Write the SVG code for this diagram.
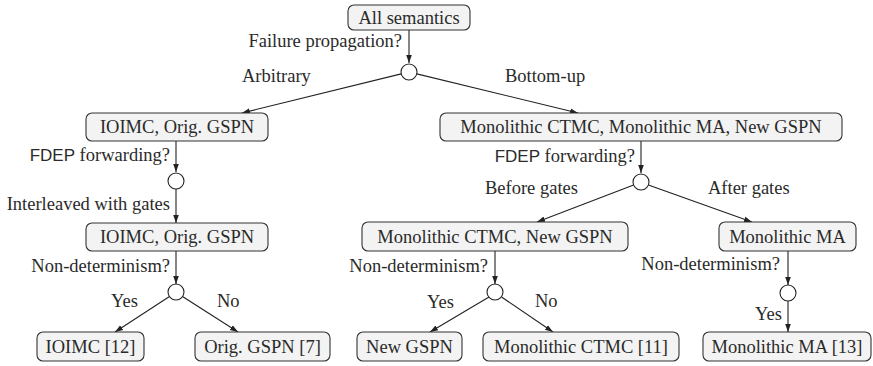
<svg xmlns="http://www.w3.org/2000/svg" width="873" height="366" viewBox="0 0 873 366" font-family="Liberation Serif, Times New Roman, serif">
<defs>
<marker id="ah" viewBox="0 0 10 10" refX="10" refY="5" markerWidth="8" markerHeight="8" markerUnits="userSpaceOnUse" orient="auto">
<path d="M0,1.5 L10,5 L0,8.5 z" fill="#222"/>
</marker>
<style>
text{font-size:18.5px;fill:#2a2a2a}
tspan.sf{font-size:17px}
.box rect{fill:#f3f3f3;stroke:#333;stroke-width:1.1}
.box text{text-anchor:middle}
.dec circle{fill:#fff;stroke:#222;stroke-width:1.1}
.e{text-anchor:end}
#connectors line{stroke:#222;stroke-width:1.1;fill:none}
#connectors line.a{marker-end:url(#ah)}
</style>
</defs>
<rect width="873" height="366" fill="#fff"/>

<g id="connectors">
<line class="a" x1="409" y1="30" x2="409" y2="63"/>
<line class="a" x1="401.2" y1="73.9" x2="242" y2="113"/>
<line class="a" x1="416.8" y1="73.9" x2="578" y2="113"/>
<line class="a" x1="176" y1="141" x2="176" y2="172"/>
<line class="a" x1="176" y1="189" x2="176" y2="223"/>
<line class="a" x1="176" y1="251" x2="176" y2="284"/>
<line class="a" x1="169.5" y1="296.5" x2="115" y2="332"/>
<line class="a" x1="182.5" y1="296.5" x2="238" y2="332"/>
<line class="a" x1="641" y1="141" x2="641" y2="173"/>
<line class="a" x1="633.6" y1="185" x2="537" y2="222"/>
<line class="a" x1="648.4" y1="185" x2="752" y2="222"/>
<line class="a" x1="495" y1="251" x2="495" y2="284"/>
<line class="a" x1="489" y1="297" x2="430" y2="332"/>
<line class="a" x1="501.5" y1="297" x2="553" y2="332"/>
<line class="a" x1="788" y1="251" x2="788" y2="285"/>
<line class="a" x1="788" y1="301" x2="788" y2="332"/>
</g>

<g id="labels">
<text class="e" x="402" y="47">Failure propagation?</text>
<text x="242" y="82">Arbitrary</text>
<text x="505" y="82">Bottom-up</text>
<text class="e" x="170" y="161"><tspan class="sf" font-family="Liberation Sans, Arial, sans-serif">FDEP</tspan> forwarding?</text>
<text class="e" x="170" y="210">Interleaved with gates</text>
<text class="e" x="170" y="272">Non-determinism?</text>
<text x="111" y="307">Yes</text>
<text x="217" y="307">No</text>
<text class="e" x="635" y="162"><tspan class="sf" font-family="Liberation Sans, Arial, sans-serif">FDEP</tspan> forwarding?</text>
<text x="485" y="194">Before gates</text>
<text x="708" y="194">After gates</text>
<text class="e" x="488" y="272">Non-determinism?</text>
<text x="427" y="308">Yes</text>
<text x="535" y="307">No</text>
<text class="e" x="780" y="270">Non-determinism?</text>
<text x="755" y="320">Yes</text>
</g>

<g id="n-all" class="box"><rect x="348" y="5" width="122" height="25" rx="6"/><text x="409" y="24">All semantics</text></g>
<g id="d-prop" class="dec"><circle cx="409" cy="72" r="8"/></g>

<g id="n-ioimc1" class="box"><rect x="86" y="113" width="182" height="28" rx="6"/><text x="177" y="133">IOIMC, Orig. GSPN</text></g>
<g id="d-fdep1" class="dec"><circle cx="176" cy="181" r="8"/></g>
<g id="n-ioimc2" class="box"><rect x="86" y="223" width="182" height="28" rx="6"/><text x="177" y="243">IOIMC, Orig. GSPN</text></g>
<g id="d-nd1" class="dec"><circle cx="176" cy="292" r="8"/></g>
<g id="n-ioimc12" class="box"><rect x="37" y="332" width="107" height="29" rx="6"/><text x="90.5" y="353">IOIMC [12]</text></g>
<g id="n-gspn7" class="box"><rect x="195" y="332" width="135" height="29" rx="6"/><text x="262.5" y="353">Orig. GSPN [7]</text></g>

<g id="n-mono" class="box"><rect x="440" y="113" width="402" height="28" rx="6"/><text x="641" y="133">Monolithic CTMC, Monolithic MA, New GSPN</text></g>
<g id="d-fdep2" class="dec"><circle cx="641" cy="182" r="8"/></g>
<g id="n-ctmcgspn" class="box"><rect x="362" y="222" width="266" height="29" rx="6"/><text x="495" y="243">Monolithic CTMC, New GSPN</text></g>
<g id="n-ma" class="box"><rect x="719" y="222" width="137" height="29" rx="6"/><text x="787.5" y="243">Monolithic MA</text></g>
<g id="d-nd2" class="dec"><circle cx="495" cy="292" r="8"/></g>
<g id="n-newgspn" class="box"><rect x="357" y="332" width="105" height="29" rx="6"/><text x="409.5" y="353">New GSPN</text></g>
<g id="n-ctmc11" class="box"><rect x="483" y="332" width="196" height="29" rx="6"/><text x="581" y="353">Monolithic CTMC [11]</text></g>
<g id="d-nd3" class="dec"><circle cx="788" cy="293" r="8"/></g>
<g id="n-ma13" class="box"><rect x="703" y="332" width="168" height="29" rx="6"/><text x="787" y="353">Monolithic MA [13]</text></g>
</svg>
